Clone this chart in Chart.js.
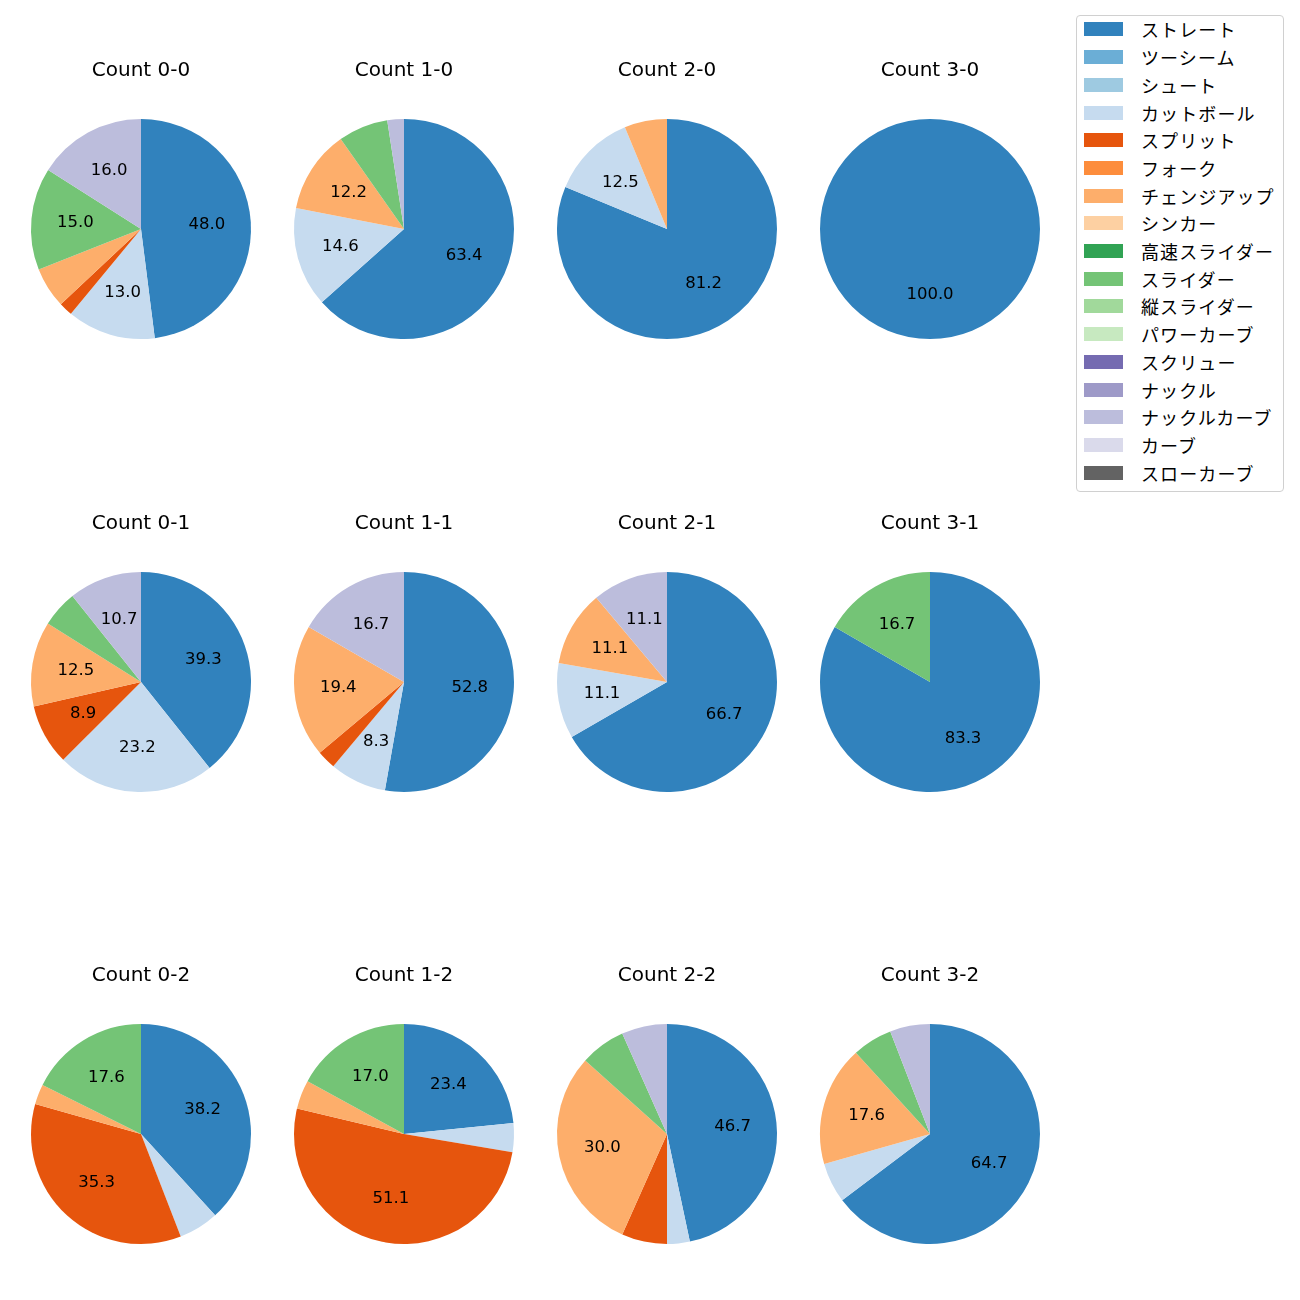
<!DOCTYPE html>
<html>
<head>
<meta charset="utf-8">
<script src="https://cdn.jsdelivr.net/npm/chart.js@4.4.1/dist/chart.umd.min.js"></script>
<style>
    body { margin: 0; background: #fff; width: 1300px; height: 1300px; position: relative; font-family: "DejaVu Sans", "Noto Sans CJK JP", sans-serif; }
    canvas.pie { position: absolute; }
    #legend { position: absolute; left: 1076px; top: 15px; width: 208px; height: 477px; border: 1px solid #d0d0d0; border-radius: 4px; box-sizing: border-box; }
    .item { position: absolute; left: 0; height: 24px; font-family: "Noto Sans CJK JP", sans-serif; font-size: 18px; line-height: 24px; color: #000; white-space: nowrap; }
    .sw { position: absolute; left: 7px; top: 5px; width: 39px; height: 14px; }
    .lbl { position: absolute; left: 64px; top: 0; letter-spacing: 1.1px; }
</style>
</head>
<body>
<div id="legend"></div>

<script>
// 球種とカラー (tab20c)
let pitchTypes = ['ストレート', 'ツーシーム', 'シュート', 'カットボール', 'スプリット', 'フォーク', 'チェンジアップ', 'シンカー',
    '高速スライダー', 'スライダー', '縦スライダー', 'パワーカーブ', 'スクリュー', 'ナックル', 'ナックルカーブ', 'カーブ', 'スローカーブ'];
let pitchColors = ['#3182bd', '#6baed6', '#9ecae1', '#c6dbef', '#e6550d', '#fd8d3c', '#fdae6b', '#fdd0a2',
    '#31a354', '#74c476', '#a1d99b', '#c7e9c0', '#756bb1', '#9e9ac8', '#bcbddc', '#dadaeb', '#636363'];

let countLabels = ['Count 0-0', 'Count 1-0', 'Count 2-0', 'Count 3-0',
    'Count 0-1', 'Count 1-1', 'Count 2-1', 'Count 3-1',
    'Count 0-2', 'Count 1-2', 'Count 2-2', 'Count 3-2'];

// 投球数 (球種順)
let count00 = [48, 0, 0, 13, 2, 0, 6, 0, 0, 15, 0, 0, 0, 0, 16, 0, 0];
let count10 = [26, 0, 0, 6, 0, 0, 5, 0, 0, 3, 0, 0, 0, 0, 1, 0, 0];
let count20 = [13, 0, 0, 2, 0, 0, 1, 0, 0, 0, 0, 0, 0, 0, 0, 0, 0];
let count30 = [6, 0, 0, 0, 0, 0, 0, 0, 0, 0, 0, 0, 0, 0, 0, 0, 0];
let count01 = [22, 0, 0, 13, 5, 0, 7, 0, 0, 3, 0, 0, 0, 0, 6, 0, 0];
let count11 = [19, 0, 0, 3, 1, 0, 7, 0, 0, 0, 0, 0, 0, 0, 6, 0, 0];
let count21 = [6, 0, 0, 1, 0, 0, 1, 0, 0, 0, 0, 0, 0, 0, 1, 0, 0];
let count31 = [5, 0, 0, 0, 0, 0, 0, 0, 0, 1, 0, 0, 0, 0, 0, 0, 0];
let count02 = [13, 0, 0, 2, 12, 0, 1, 0, 0, 6, 0, 0, 0, 0, 0, 0, 0];
let count12 = [11, 0, 0, 2, 24, 0, 2, 0, 0, 8, 0, 0, 0, 0, 0, 0, 0];
let count22 = [14, 0, 0, 1, 2, 0, 9, 0, 0, 2, 0, 0, 0, 0, 2, 0, 0];
let count32 = [11, 0, 0, 1, 0, 0, 3, 0, 0, 1, 0, 0, 0, 0, 1, 0, 0];

let countData = [count00, count10, count20, count30, count01, count11, count21, count31, count02, count12, count22, count32];

let colX = [141, 404, 667, 930];
let rowY = [229, 682, 1134];

// 小数1桁 (偶数丸め)
let fmtPct = (v) => {
    let s = v * 10;
    let f = Math.floor(s);
    let r = (s - f === 0.5) ? (f % 2 === 0 ? f : f + 1) : Math.round(s);
    return (r / 10).toFixed(1);
};

// パーセント表示
let pctLabels = {
    id: 'pctLabels',
    afterDatasetsDraw(chart) {
        let ctx = chart.ctx;
        let meta = chart.getDatasetMeta(0);
        let values = chart.data.datasets[0].data;
        let total = values.reduce((a, b) => a + b, 0);
        ctx.save();
        ctx.font = '16.5px "DejaVu Sans", sans-serif';
        ctx.fillStyle = '#000';
        ctx.textAlign = 'center';
        ctx.textBaseline = 'middle';
        meta.data.forEach((arc, i) => {
            let pct = values[i] / total * 100;
            if (pct < 7.5) return;
            let p = arc.getProps(['x', 'y', 'startAngle', 'endAngle', 'outerRadius'], true);
            let mid = (p.startAngle + p.endAngle) / 2;
            let r = p.outerRadius * 0.6;
            ctx.fillText(fmtPct(pct), p.x + Math.cos(mid) * r, p.y + Math.sin(mid) * r);
        });
        ctx.restore();
    }
};

countData.forEach((vals, k) => {
    let cx = colX[k % 4];
    let cy = rowY[Math.floor(k / 4)];
    let canvas = document.createElement('canvas');
    canvas.className = 'pie';
    canvas.width = 240;
    canvas.height = 300;
    canvas.style.left = (cx - 120) + 'px';
    canvas.style.top = (cy - 180) + 'px';
    document.body.appendChild(canvas);

    new Chart(canvas.getContext('2d'), {
        type: 'pie',
        data: {
            labels: pitchTypes,
            datasets: [{
                data: vals,
                backgroundColor: pitchColors,
                borderWidth: 0,
                hoverOffset: 0,
            }],
        },
        options: {
            responsive: false,
            animation: false,
            layout: { padding: { left: 10, right: 10, top: 0, bottom: 10 } },
            plugins: {
                legend: { display: false },
                tooltip: { enabled: false },
                title: {
                    display: true,
                    text: countLabels[k],
                    color: '#000',
                    font: { family: '"DejaVu Sans", sans-serif', size: 20, weight: 'normal', lineHeight: 1.2 },
                    padding: { top: 10, bottom: 36 },
                },
            },
        },
        plugins: [pctLabels],
    });
});

// 凡例
let legend = document.getElementById('legend');
pitchTypes.forEach((name, i) => {
    let item = document.createElement('div');
    item.className = 'item';
    item.style.top = (29.4 + i * 27.7 - 15 - 12 - 1) + 'px';
    item.innerHTML = '<div class="sw" style="background:' + pitchColors[i] + '"></div><div class="lbl">' + name + '</div>';
    legend.appendChild(item);
});
</script>
</body>
</html>
